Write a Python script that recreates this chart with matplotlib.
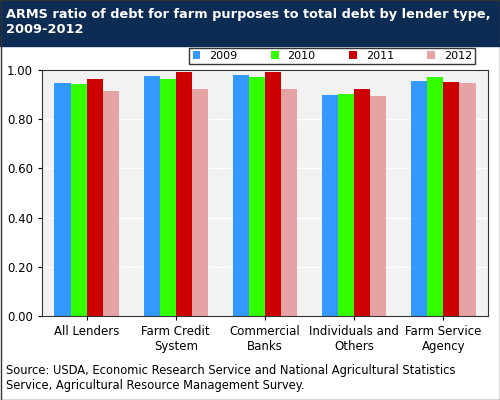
import matplotlib
matplotlib.use("Agg")
import matplotlib.pyplot as plt
import numpy as np

categories = ["All Lenders", "Farm Credit\nSystem", "Commercial\nBanks", "Individuals and\nOthers", "Farm Service\nAgency"]
years = ["2009", "2010", "2011", "2012"]
values = {
    "2009": [0.947, 0.976, 0.980, 0.898, 0.955],
    "2010": [0.943, 0.963, 0.972, 0.902, 0.972],
    "2011": [0.963, 0.992, 0.992, 0.923, 0.951],
    "2012": [0.915, 0.923, 0.923, 0.894, 0.947],
}
colors = ["#3399ff", "#33ff00", "#cc0000", "#e6a3a3"]

fig = plt.figure(figsize=(5, 4), dpi=100)
fig.patch.set_facecolor("white")
# title banner
fig.patches.append(plt.Rectangle((0, 0.885), 1, 0.115, transform=fig.transFigure,
                                 color="#0d2c54", zorder=0))
fig.text(0.012, 0.945, "ARMS ratio of debt for farm purposes to total debt by lender type,\n2009-2012",
         color="white", fontsize=9.3, fontweight="bold", va="center", ha="left")

ax = fig.add_axes([0.084, 0.21, 0.892, 0.615])
ax.set_facecolor("#f2f2f2")
x = np.arange(len(categories))
w = 0.18
for i, (yr, c) in enumerate(zip(years, colors)):
    ax.bar(x + (i - 1.5) * w, values[yr], w, color=c, label=yr, zorder=2)
ax.set_xlim(-0.5, len(categories) - 0.5)
ax.set_ylim(0, 1.0)
ax.set_yticks(np.arange(0, 1.01, 0.2))
ax.set_yticklabels([f"{v:.2f}" for v in np.arange(0, 1.01, 0.2)], fontsize=8.5)
ax.set_xticks(x)
ax.set_xticklabels(categories, fontsize=8.5)
ax.yaxis.grid(True, color="white", linewidth=1, zorder=1)
for s in ax.spines.values():
    s.set_color("#333333")
ax.tick_params(length=3)

leg = fig.legend(loc="upper right", bbox_to_anchor=(0.962, 0.895), ncol=4, fontsize=8,
                 frameon=True, fancybox=False, edgecolor="black", borderpad=0.3,
                 columnspacing=3.0, handlelength=0.7, handleheight=0.7, handletextpad=0.8)
leg.get_frame().set_linewidth(1.0)

fig.text(0.012, 0.02, "Source: USDA, Economic Research Service and National Agricultural Statistics\n"
         "Service, Agricultural Resource Management Survey.", fontsize=8.3, va="bottom")
fig.patches.append(plt.Rectangle((0.001, 0.001), 0.998, 0.998, transform=fig.transFigure,
                                 fill=False, edgecolor="#333333", linewidth=1))
fig.savefig("out.png", dpi=100)
